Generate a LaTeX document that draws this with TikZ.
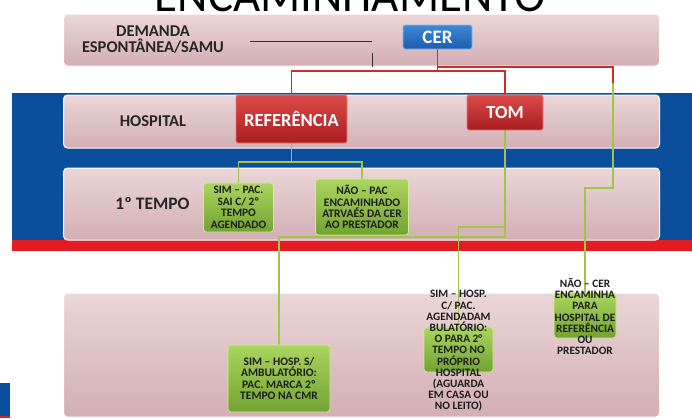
\documentclass[tikz,border=0pt]{standalone}
\usepackage{fontspec}
\setmainfont{Carlito}
\pgfdeclarelayer{bg}
\pgfdeclarelayer{conn}
\pgfsetlayers{bg,conn,main}
\definecolor{rowtop}{HTML}{EBD6D8}
\definecolor{rowbot}{HTML}{D2AFB4}
\definecolor{bandblue}{HTML}{0B4F9C}
\definecolor{bandred}{HTML}{E31B23}
\definecolor{redtop}{HTML}{DC4A48}
\definecolor{redbot}{HTML}{A81D21}
\definecolor{rededge}{HTML}{E87A78}
\definecolor{bluetop}{HTML}{3E89D8}
\definecolor{bluebot}{HTML}{1B5DAC}
\definecolor{blueedge}{HTML}{8DBBEA}
\definecolor{greentop}{HTML}{ABD65E}
\definecolor{greenbot}{HTML}{72A232}
\definecolor{greenedge}{HTML}{D2EB9C}
\definecolor{linered}{HTML}{C9302C}
\definecolor{linegreen}{HTML}{9FC54A}
\definecolor{boxtext}{HTML}{1C1C1C}
\definecolor{lbltext}{HTML}{262626}
\begin{document}
\begin{tikzpicture}[x=1pt,y=-1pt,
  rowbox/.style={draw=white, line width=1pt, rounded corners=4pt, top color=rowtop, bottom color=rowbot, minimum width=596pt, inner sep=0pt},
  lbl/.style={font=\fontsize{16.5}{16}\selectfont\bfseries, text=lbltext, align=center},
  redbox/.style={draw=rededge, line width=0.8pt, rounded corners=2pt, top color=redtop, bottom color=redbot, text=white, font=\fontsize{18.5}{20}\selectfont\bfseries, inner sep=0pt},
  bluebox/.style={draw=blueedge, line width=0.8pt, rounded corners=2pt, top color=bluetop, bottom color=bluebot, text=white, font=\fontsize{19}{20}\selectfont\bfseries, inner sep=0pt},
  greenbox/.style={draw=greenedge, line width=0.8pt, rounded corners=3pt, top color=greentop, bottom color=greenbot, text=boxtext, font=\fontsize{11.5}{11.2}\selectfont\bfseries, align=center, inner sep=0pt},
  boxtxt/.style={text=boxtext, font=\fontsize{11.3}{11.2}\selectfont\bfseries, align=center, inner sep=0pt},
  redline/.style={draw=linered, line width=1.6pt},
  greenline/.style={draw=linegreen, line width=1.6pt},
  thinline/.style={draw=black!80, line width=0.8pt}]
\useasboundingbox (0,0) rectangle (692,418);
\clip (0,0) rectangle (692,418);

\begin{pgfonlayer}{bg}
  \fill[white] (0,0) rectangle (692,418);
  \fill[bandblue] (12,93) rectangle (692,240);
  \fill[bandred] (12,240) rectangle (692,251);
  \fill[bandblue] (0,383) rectangle (10,416);
  \fill[bandred] (0,416) rectangle (10,418);
  \node[rowbox, minimum height=52pt] (row1) at (361.5,40) {};
  \node[rowbox, minimum height=53pt] (row2) at (361.5,121.5) {};
  \node[rowbox, minimum height=72pt] (row3) at (361.5,204) {};
  \node[rowbox, minimum height=124pt] (row4) at (361.5,355) {};
\end{pgfonlayer}

\node[font=\fontsize{47}{47}\selectfont, anchor=base] (title) at (350,11) {ENCAMINHAMENTO};

\node[lbl] (demanda) at (153,40) {DEMANDA\\ESPONTÂNEA/SAMU};
\node[lbl] (hosp) at (153,121.5) {HOSPITAL};
\node[lbl, font=\fontsize{17.5}{18}\selectfont\bfseries] (tempo) at (152.5,204) {1º TEMPO};

\node[bluebox, minimum width=69pt, minimum height=24pt] (cer) at (437.5,37) {CER};
\node[redbox, minimum width=111pt, minimum height=48pt] (ref) at (291.5,119) {REFERÊNCIA};
\node[redbox, minimum width=76pt, minimum height=35pt] (tom) at (505,112.5) {TOM};

\node[greenbox, minimum width=70pt, minimum height=49pt, font=\fontsize{11.3}{11.5}\selectfont\bfseries] (simpac) at (238.5,207.5) {SIM – PAC.\\SAI C/ 2º\\TEMPO\\AGENDADO};
\node[greenbox, minimum width=93pt, minimum height=56pt] (naopac) at (362,207) {NÃO – PAC\\ENCAMINHADO\\ATRVAÉS DA CER\\AO PRESTADOR};
\node[greenbox, minimum width=102pt, minimum height=67pt] (sims) at (279,378.5) {SIM – HOSP. S/\\AMBULATÓRIO:\\PAC. MARCA 2º\\TEMPO NA CMR};
\node[greenbox, minimum width=69pt, minimum height=45pt] (simc) at (458.5,349.5) {};
\node[boxtxt] (simctext) at (458.5,351) {SIM – HOSP.\\C/ PAC.\\AGENDADAM\\BULATÓRIO:\\O PARA 2°\\TEMPO NO\\PRÓPRIO\\HOSPITAL\\(AGUARDA\\EM CASA OU\\NO LEITO)};
\node[greenbox, minimum width=62pt, minimum height=45pt] (naocer) at (585,315.5) {};
\node[boxtxt] (naocertext) at (585,316.5) {NÃO – CER\\ENCAMINHA\\PARA\\HOSPITAL DE\\REFERÊNCIA\\OU\\PRESTADOR};

\begin{pgfonlayer}{conn}
  \coordinate (d1) at (250,41);
  \coordinate (d2) at (372,41);
  \coordinate (d3) at (372,53);
  \coordinate (d4) at (372,67);
  \draw[thinline] (d1) -- (d2);
  \draw[thinline] (d3) -- (d4);
  \coordinate (c1) at (437.5,71);
  \coordinate (c2) at (437.5,67);
  \coordinate (c3) at (613,67);
  \coordinate (c4) at (613,83);
  \coordinate (c5) at (613,188);
  \draw[redline] (cer.south) -- (c1);
  \draw[redline] (c1) -| (ref.north);
  \draw[redline] (c1) -| (tom.north);
  \draw[redline] (c2) -- (c3) -- (c4);
  \draw[greenline] (c4) -- (c5) -| (naocer.north);
  \coordinate (g1) at (291.5,162);
  \draw[greenline] (ref.south) -- (g1);
  \draw[greenline] (g1) -| (simpac.north);
  \draw[greenline] (g1) -| (naopac.north);
  \coordinate (t1) at (505,227);
  \coordinate (t2) at (505,237);
  \draw[greenline] (tom.south) -- (t2) -| (sims.north);
  \draw[greenline] (t1) -| (simc.north);
\end{pgfonlayer}
\end{tikzpicture}
\end{document}
